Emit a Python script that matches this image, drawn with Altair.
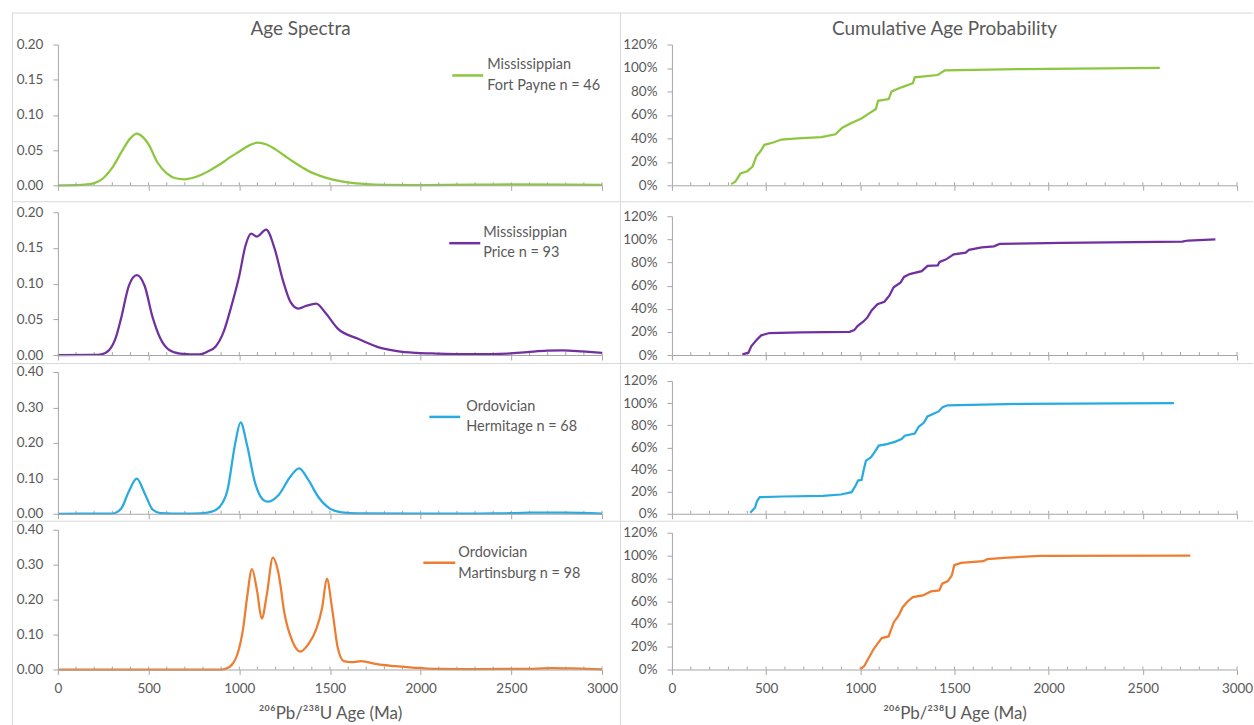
import altair as alt
import pandas as pd

# ---------------------------------------------------------------------------
# Detrital zircon U-Pb age data (Ma)
# ---------------------------------------------------------------------------

# Age spectra (probability density)
fort_payne_age = [0, 100, 150, 200, 250, 300, 350, 400, 435, 470, 500, 550, 600, 650,
                  700, 750, 800, 850, 900, 950, 1000, 1050, 1100, 1150, 1200, 1250,
                  1300, 1350, 1400, 1450, 1500, 1600, 1700, 1800, 2000, 2300, 2500,
                  2800, 3000]
fort_payne_pdp = [0, 0.0003, 0.001, 0.003, 0.010, 0.025, 0.047, 0.067, 0.0735, 0.068,
                  0.058, 0.032, 0.017, 0.010, 0.0085, 0.011, 0.016, 0.023, 0.031, 0.040,
                  0.048, 0.056, 0.0605, 0.058, 0.051, 0.042, 0.033, 0.025, 0.018, 0.013,
                  0.009, 0.004, 0.0015, 0.0005, 0.0003, 0.0008, 0.0012, 0.001, 0.0005]

price_age = [0, 200, 240, 283, 320, 348, 391, 435, 478, 522, 565, 609, 674, 783, 826,
             870, 913, 957, 1000, 1033, 1065, 1098, 1148, 1196, 1239, 1283, 1326, 1370,
             1424, 1478, 1543, 1652, 1761, 1870, 1978, 2087, 2304, 2478, 2587, 2696,
             2783, 2891, 3000]
price_pdp = [0, 0.0002, 0.001, 0.007, 0.025, 0.051, 0.097, 0.112, 0.097, 0.053, 0.023,
             0.008, 0.002, 0.0008, 0.005, 0.012, 0.032, 0.069, 0.111, 0.152, 0.170,
             0.166, 0.1755, 0.148, 0.106, 0.074, 0.065, 0.069, 0.072, 0.058, 0.037,
             0.023, 0.0115, 0.0055, 0.003, 0.002, 0.0012, 0.002, 0.004, 0.006, 0.0065,
             0.005, 0.003]

hermitage_age = [0, 300, 348, 391, 435, 478, 522, 565, 700, 783, 848, 891, 935, 978,
                 1007, 1043, 1087, 1130, 1157, 1217, 1283, 1330, 1380, 1435, 1500, 1565,
                 1652, 2000, 2400, 2600, 2700, 2800, 3000]
hermitage_pdp = [0, 0.0005, 0.014, 0.063, 0.099, 0.058, 0.012, 0.002, 0.0003, 0.001,
                 0.006, 0.019, 0.067, 0.200, 0.258, 0.193, 0.087, 0.040, 0.034, 0.053,
                 0.106, 0.128, 0.096, 0.048, 0.0145, 0.004, 0.001, 0.0003, 0.0008, 0.003,
                 0.0035, 0.003, 0.0005]

martinsburg_age = [0, 900, 924, 967, 989, 1022, 1043, 1070, 1098, 1124, 1152, 1185, 1217,
                   1250, 1293, 1337, 1380, 1424, 1457, 1483, 1511, 1543, 1576, 1620, 1674,
                   1750, 1859, 1967, 2076, 2293, 2620, 2728, 2837, 3000]
martinsburg_pdp = [0, 0, 0.002, 0.019, 0.043, 0.120, 0.206, 0.287, 0.225, 0.146, 0.215,
                   0.320, 0.273, 0.158, 0.081, 0.051, 0.072, 0.115, 0.177, 0.260, 0.177,
                   0.062, 0.024, 0.021, 0.024, 0.016, 0.0096, 0.005, 0.002, 0.001, 0.002,
                   0.004, 0.003, 0.0005]

# Cumulative age probability (fraction of grains)
fort_payne_cum_age = [315, 336, 364, 400, 428, 449, 470, 491, 538, 581, 666, 794, 868, 904,
                      953, 1006, 1049, 1083, 1094, 1151, 1166, 1219, 1279, 1289, 1411, 1449,
                      1857, 2590]
fort_payne_cum = [0.01, 0.03, 0.10, 0.12, 0.16, 0.25, 0.29, 0.345, 0.365, 0.39, 0.40, 0.41,
                  0.435, 0.49, 0.53, 0.57, 0.615, 0.65, 0.72, 0.735, 0.80, 0.835, 0.87,
                  0.92, 0.94, 0.98, 0.99, 1.00]

price_cum_age = [374, 406, 421, 449, 474, 517, 687, 943, 968, 985, 1017, 1038, 1060, 1091,
                 1128, 1155, 1177, 1213, 1232, 1262, 1326, 1357, 1411, 1421, 1453, 1496,
                 1560, 1577, 1645, 1709, 1740, 2070, 2709, 2740, 2885]
price_cum = [0.005, 0.02, 0.075, 0.13, 0.17, 0.19, 0.195, 0.20, 0.215, 0.25, 0.29, 0.325,
             0.385, 0.44, 0.46, 0.515, 0.585, 0.625, 0.675, 0.70, 0.725, 0.77, 0.775, 0.805,
             0.825, 0.87, 0.885, 0.91, 0.93, 0.94, 0.96, 0.97, 0.98, 0.99, 1.00]

hermitage_cum_age = [416, 441, 452, 466, 589, 801, 897, 954, 977, 988, 1007, 1018, 1030,
                     1056, 1077, 1098, 1141, 1183, 1219, 1236, 1289, 1310, 1336, 1357, 1416,
                     1437, 1463, 1861, 2665]
hermitage_cum = [0.01, 0.055, 0.115, 0.15, 0.156, 0.162, 0.174, 0.195, 0.26, 0.30, 0.307,
                 0.395, 0.48, 0.51, 0.56, 0.616, 0.63, 0.65, 0.675, 0.705, 0.725, 0.787,
                 0.82, 0.88, 0.925, 0.964, 0.98, 0.993, 1.00]

martinsburg_cum_age = [1001, 1022, 1043, 1071, 1097, 1114, 1150, 1178, 1204, 1225, 1251,
                       1279, 1332, 1375, 1419, 1435, 1465, 1486, 1499, 1535, 1653, 1674,
                       1781, 1952, 2752]
martinsburg_cum = [0.003, 0.032, 0.097, 0.18, 0.238, 0.276, 0.29, 0.415, 0.474, 0.547,
                   0.597, 0.635, 0.65, 0.685, 0.694, 0.753, 0.776, 0.826, 0.915, 0.935,
                   0.95, 0.968, 0.982, 0.997, 1.00]

# Series labels and colours
legend_lines = [
    ("Mississippian", "Fort Payne n = 46"),
    ("Mississippian", "Price n = 93"),
    ("Ordovician", "Hermitage n = 68"),
    ("Ordovician", "Martinsburg n = 98"),
]
colors = ["#8DC63F", "#7030A0", "#29AAE1", "#ED7D31"]

# Axis ticks
major_ticks = [0, 500, 1000, 1500, 2000, 2500, 3000]
minor_ticks = list(range(100, 3001, 100))
pdp_ticks_small = [0, 0.05, 0.10, 0.15, 0.20]
pdp_ticks_large = [0, 0.10, 0.20, 0.30, 0.40]
cum_ticks = [0, 0.2, 0.4, 0.6, 0.8, 1.0, 1.2]

# ---------------------------------------------------------------------------
# Layout / style
# ---------------------------------------------------------------------------
FONT = "Lato"
TEXT = "#595959"
AXIS = "#a6a6a6"
FRAME = "#d9d9d9"

LEFT_W, RIGHT_W = 609, 634
ROW_H = [189, 162, 158, 205]
LEFT_X_RANGE = [46, 591]
RIGHT_X_RANGE = [52, 618]
LEFT_Y_RANGE = [[173, 32], [154, 11], [151, 9], [149, 9]]
RIGHT_Y_RANGE = [[173, 32], [154, 15], [151, 18], [149, 12]]
# legend: (sample x0, sample x1, sample y, text x, line-1 y, line-2 y)
LEGEND_POS = [
    (441, 472, 63, 476, 52.5, 73.5),
    (438, 469, 42, 472, 32, 52),
    (418, 449, 54, 455, 44, 64.5),
    (412, 444, 42, 447, 32, 53),
]
X_TITLE = "²⁰⁶Pb/²³⁸U Age (Ma)"

one_row = pd.DataFrame({"k": [0]})


def frame(width, height):
    top = alt.Chart(one_row).mark_rule(color=FRAME, strokeWidth=1).encode(
        x=alt.value(0), x2=alt.value(width), y=alt.value(0.5))
    left = alt.Chart(one_row).mark_rule(color=FRAME, strokeWidth=1).encode(
        x=alt.value(0.5), y=alt.value(0), y2=alt.value(height))
    return [top, left]


def text_at(txt, x, y, size, align="left"):
    return alt.Chart(one_row).mark_text(
        text=txt, font=FONT, fontSize=size, color=TEXT, align=align, baseline="middle"
    ).encode(x=alt.value(x), y=alt.value(y))


def panel(ages, values, color, width, height, xrange, yrange, ydomain, yvalues,
          yformat, interp, legend=None, legend_pos=None, title=None, title_x=0,
          bottom=False):
    zero = yrange[0]
    df = pd.DataFrame({"age": ages, "value": values})
    xscale = alt.Scale(domain=[0, 3000], range=xrange, nice=False)
    yscale = alt.Scale(domain=ydomain, range=yrange, nice=False)

    axis_style = dict(domain=True, ticks=True, domainColor=AXIS, tickColor=AXIS,
                      domainWidth=1, tickWidth=1, tickSize=5, zindex=1,
                      labelFlush=False)
    xaxis_kw = dict(orient="bottom", offset=-(height - zero), values=major_ticks,
                    labels=bottom, format="d", labelPadding=7, **axis_style)
    if bottom:
        xaxis_kw.update(title=X_TITLE, titleBaseline="middle", titleY=44)
    else:
        xaxis_kw.update(title=None)
    xaxis = alt.Axis(**xaxis_kw)
    yaxis = alt.Axis(orient="left", offset=-xrange[0], values=yvalues, format=yformat,
                     labelPadding=10, title=None, **axis_style)

    # short upward ticks every 100 Ma along the age axis
    minor = alt.Chart(pd.DataFrame({"age": minor_ticks})).mark_rule(
        color=AXIS, strokeWidth=1
    ).encode(x=alt.X("age:Q", scale=xscale, axis=xaxis),
             y=alt.value(zero - 3), y2=alt.value(zero))

    line = alt.Chart(df).mark_line(
        color=color, strokeWidth=2.25, interpolate=interp
    ).encode(x=alt.X("age:Q", scale=xscale, axis=xaxis),
             y=alt.Y("value:Q", scale=yscale, axis=yaxis))

    layers = frame(width, height) + [minor, line]
    if legend is not None:
        sx0, sx1, sy, tx, ty1, ty2 = legend_pos
        layers.append(alt.Chart(one_row).mark_rule(color=color, strokeWidth=2.5).encode(
            x=alt.value(sx0), x2=alt.value(sx1), y=alt.value(sy)))
        layers.append(text_at(legend[0], tx, ty1, 14.5))
        layers.append(text_at(legend[1], tx, ty2, 14.5))
    if title is not None:
        layers.append(text_at(title, title_x, 16, 19, align="center"))
    return alt.layer(*layers).properties(width=width, height=height)


spectra = [
    (fort_payne_age, fort_payne_pdp, [0, 0.2], pdp_ticks_small),
    (price_age, price_pdp, [0, 0.2], pdp_ticks_small),
    (hermitage_age, hermitage_pdp, [0, 0.4], pdp_ticks_large),
    (martinsburg_age, martinsburg_pdp, [0, 0.4], pdp_ticks_large),
]
cumulative = [
    (fort_payne_cum_age, fort_payne_cum),
    (price_cum_age, price_cum),
    (hermitage_cum_age, hermitage_cum),
    (martinsburg_cum_age, martinsburg_cum),
]

# row-major grid: spectrum on the left, cumulative curve on the right
panels = []
for i in range(4):
    ages, vals, dom, ticks = spectra[i]
    panels.append(panel(
        ages, vals, colors[i], LEFT_W, ROW_H[i], LEFT_X_RANGE, LEFT_Y_RANGE[i], dom,
        ticks, ".2f", "monotone", legend=legend_lines[i], legend_pos=LEGEND_POS[i],
        title="Age Spectra" if i == 0 else None, title_x=289, bottom=(i == 3)))
    cages, cvals = cumulative[i]
    panels.append(panel(
        cages, cvals, colors[i], RIGHT_W, ROW_H[i], RIGHT_X_RANGE, RIGHT_Y_RANGE[i],
        [0, 1.2], cum_ticks, ".0%", "linear",
        title="Cumulative Age Probability" if i == 0 else None, title_x=325,
        bottom=(i == 3)))

chart = alt.concat(*panels, columns=2, spacing=0, bounds="flush").properties(
    padding={"left": 11, "top": 11, "right": 0, "bottom": 0},
    background="white",
).configure_view(
    strokeWidth=0
).configure_axis(
    labelFont=FONT, labelFontSize=13.5, labelColor=TEXT,
    titleFont=FONT, titleFontSize=17, titleColor=TEXT, titleFontWeight="normal",
    grid=False,
)

chart.save("out.html", embed_options={"renderer": "svg", "actions": False})
